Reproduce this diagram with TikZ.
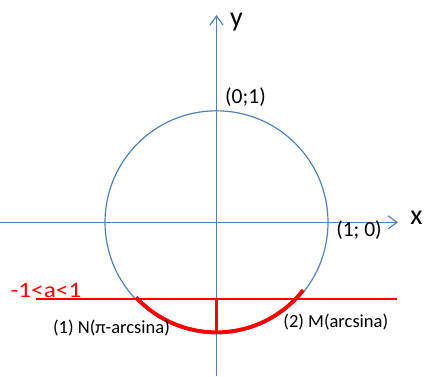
\documentclass[tikz,border=0pt]{standalone}
\usepackage{fontspec}
\setmainfont{Carlito}
\usetikzlibrary{arrows.meta,calc}
\definecolor{axblue}{RGB}{79,129,189}
\definecolor{myred}{RGB}{255,0,0}
\tikzset{
  axis/.style={draw=axblue, line width=1.2pt, -{Straight Barb[length=9pt,width=13pt,line width=1.2pt]}},
  circ/.style={draw=axblue, line width=1.2pt},
  redline/.style={draw=myred, line width=1.5pt},
  redthick/.style={draw=myred, line width=3.8pt},
  redvert/.style={draw=myred, line width=3pt},
  lbl/.style={inner sep=0pt, text=black},
}
\begin{document}
\begin{tikzpicture}[x=1pt,y=-1pt]
\useasboundingbox (0,0) rectangle (425,376);
\coordinate (O) at (216.5,222.3);
\coordinate (xs) at (0,222.3);
\coordinate (xe) at (398,222.3);
\coordinate (ys) at (216.5,376);
\coordinate (ye) at (216.5,15);
\draw[axis] (xs) -- (xe);
\draw[axis] (ys) -- (ye);
\draw[circ] (O) circle[radius=111.5];
\coordinate (hl) at (35.7,299);
\coordinate (hr) at (396.7,299);
\draw[redline] (hl) -- (hr);
\draw[redthick] ($(O)+(38:110)$) arc[start angle=38, end angle=137, radius=110];
\coordinate (vt) at (216.5,299);
\coordinate (vb) at (216.5,332);
\draw[redvert] (vt) -- (vb);
\node[lbl, font=\fontsize{28}{32}\selectfont] (xl) at (416.5,218) {x};
\node[lbl, font=\fontsize{28}{32}\selectfont] (yl) at (236.5,22) {y};
\node[lbl, font=\fontsize{21.5}{25}\selectfont] (p01) at (245.5,97) {(0;1)};
\node[lbl, font=\fontsize{21.5}{25}\selectfont] (p10) at (359,230) {(1; 0)};
\node[lbl, text=myred, font=\fontsize{22}{26}\selectfont, xscale=1.15] (al) at (46,290) {-1<a<1};
\node[lbl, font=\fontsize{18.5}{22}\selectfont] (nl) at (111.5,328.5) {(1) N(π-arcsina)};
\node[lbl, font=\fontsize{18.5}{22}\selectfont] (ml) at (335.8,322.5) {(2) M(arcsina)};
\end{tikzpicture}
\end{document}
